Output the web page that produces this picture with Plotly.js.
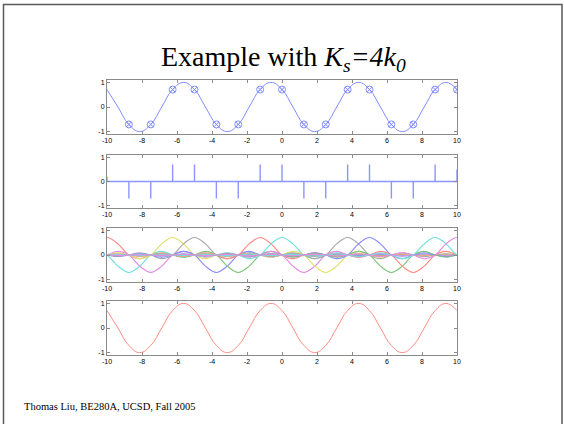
<!DOCTYPE html>
<html>
<head>
<meta charset="utf-8">
<script src="https://cdn.plot.ly/plotly-3.0.1.min.js"></script>
<style>
html,body{margin:0;padding:0;background:#fff;}
#chart{width:564px;height:424px;}
</style>
</head>
<body>
<div id="chart"></div>
<script>
// ---- data ----
// continuous signal, read every 0.625 along x
const curveX = [-10,-9.375,-8.75,-8.125,-7.5,-6.875,-6.25,-5.625,-5,-4.375,-3.75,-3.125,-2.5,-1.875,-1.25,-0.625,0,0.625,1.25,1.875,2.5,3.125,3.75,4.375,5,5.625,6.25,6.875,7.5,8.125,8.75,9.375,10];
const curveY = [0.71,0,-0.71,-1,-0.71,0,0.71,1,0.71,0,-0.71,-1,-0.71,0,0.71,1,0.71,0,-0.71,-1,-0.71,0,0.71,1,0.71,0,-0.71,-1,-0.71,0,0.71,1,0.71];
// sample positions and values (spacing 1.25)
const sampleX = [-10,-8.75,-7.5,-6.25,-5,-3.75,-2.5,-1.25,0,1.25,2.5,3.75,5,6.25,7.5,8.75,10];
const sampleY = [0.71,-0.71,-0.71,0.71,0.71,-0.71,-0.71,0.71,0.71,-0.71,-0.71,0.71,0.71,-0.71,-0.71,0.71,0.71];
// circles in top panel (no circle visible at x=-10)
const circleX = sampleX.slice(1);
const circleY = sampleY.slice(1);
// comb heights as drawn in panel 2 (edge spikes are cut short)
const combY = [0.2,-0.71,-0.71,0.71,0.71,-0.71,-0.71,0.71,0.71,-0.71,-0.71,0.71,0.71,-0.71,-0.71,0.71,0.5];
// interpolation kernel, read at half-sample offsets 0,0.5,1,... (one side)
const kernel = [1,0.64,0,-0.21,0,0.13,0,-0.09,0,0.07,0,-0.06,0,0.05,0,-0.04,0,0.04,0,-0.035,0,0.03,0,-0.03,0,0.026,0,-0.024,0,0.022,0,-0.02,0];
const sampleStep = 1.25;
const kernelColors = ['#ff8a80','#6fe0e0','#e48ae4','#e2e068','#a8a8a8','#8a8aff','#7cc47c'];

const xTicks = [-10,-8,-6,-4,-2,0,2,4,6,8,10];
const yTicks = [-1,0,1];

// ---- build traces ----
const traces = [];
const blue = '#7f8cff';
traces.push({x:curveX, y:curveY, type:'scatter', mode:'lines', line:{color:blue, width:1, shape:'spline', smoothing:1.3}, xaxis:'x', yaxis:'y', hoverinfo:'skip'});
traces.push({x:circleX, y:circleY, type:'scatter', mode:'markers', marker:{symbol:'circle-x-open', size:7, color:blue, line:{width:1}}, xaxis:'x', yaxis:'y'});

// comb
const cx = [], cy = [];
sampleX.forEach((s,i)=>{cx.push(s,s,s); cy.push(0,combY[i],0);});
traces.push({x:cx, y:cy, type:'scatter', mode:'lines', line:{color:'#8c96ff', width:1.4}, xaxis:'x2', yaxis:'y2', hoverinfo:'skip'});

// kernel curves
const offs = kernel.map((_,k)=>k*0.5);
const fullOff = offs.slice(1).reverse().map(o=>-o).concat(offs);
const fullK = kernel.slice(1).reverse().concat(kernel);
sampleX.forEach((s,i)=>{
  traces.push({
    x: fullOff.map(o=>s+o*sampleStep),
    y: fullK.map(k=>k*sampleY[i]),
    type:'scatter', mode:'lines',
    line:{color:kernelColors[i%kernelColors.length], width:1.1, shape:'spline', smoothing:1.0},
    xaxis:'x3', yaxis:'y3', hoverinfo:'skip'
  });
});

// reconstructed
traces.push({x:curveX, y:curveY, type:'scatter', mode:'lines', line:{color:'#ff8c82', width:1, shape:'spline', smoothing:1.3}, xaxis:'x4', yaxis:'y4', hoverinfo:'skip'});

// ---- layout ----
const W = 564, H = 424;
const xDom = [107/W, 457/W];
const panels = [[80,134],[155,208],[228,282],[301,355]];
function yDom(p){return [1-p[1]/H, 1-p[0]/H];}
function xax(anchor){
  return {domain:xDom, range:[-10,10], tickvals:xTicks, ticktext:xTicks.map(String), anchor:anchor,
    showline:true, mirror:'ticks', linecolor:'#8a8a8a', linewidth:1, ticks:'inside', ticklen:3, tickcolor:'#8a8a8a',
    showgrid:false, zeroline:false, tickfont:{family:'Liberation Sans, Arial, sans-serif', size:7, color:'#000'}, fixedrange:true};
}
function yax(p, anchor){
  return {domain:yDom(p), range:[-1.1,1.1], tickvals:yTicks, ticktext:yTicks.map(String), anchor:anchor,
    showline:true, mirror:'ticks', linecolor:'#8a8a8a', linewidth:1, ticks:'inside', ticklen:3, tickcolor:'#8a8a8a',
    showgrid:false, zeroline:false, tickfont:{family:'Liberation Sans, Arial, sans-serif', size:7, color:'#000'}, fixedrange:true};
}

const layout = {
  width:W, height:H, margin:{l:0,r:0,t:0,b:0}, paper_bgcolor:'#fff', plot_bgcolor:'#fff', showlegend:false,
  xaxis:xax('y'), yaxis:yax(panels[0],'x'),
  xaxis2:xax('y2'), yaxis2:yax(panels[1],'x2'),
  xaxis3:xax('y3'), yaxis3:yax(panels[2],'x3'),
  xaxis4:xax('y4'), yaxis4:yax(panels[3],'x4'),
  annotations:[
    {text:'Example with <i>K</i><sub><i>s</i></sub><i>=4k</i><sub><i>0</i></sub>', xref:'paper', yref:'paper',
     x:283/W, y:1-59/H, xanchor:'center', yanchor:'middle', showarrow:false,
     font:{family:'Liberation Serif, Times New Roman, serif', size:28, color:'#000'}},
    {text:'Thomas Liu, BE280A, UCSD, Fall 2005', xref:'paper', yref:'paper',
     x:22/W, y:1-406/H, xanchor:'left', yanchor:'middle', showarrow:false,
     font:{family:'Liberation Serif, Times New Roman, serif', size:10.5, color:'#000'}}
  ],
  shapes:[
    {type:'rect', xref:'paper', yref:'paper', x0:3.5/W, x1:562/W, y0:-0.05, y1:1-4.5/H, line:{color:'#5a5a5a', width:1.5}}
  ]
};

Plotly.newPlot('chart', traces, layout, {staticPlot:true, displayModeBar:false});
</script>
</body>
</html>
